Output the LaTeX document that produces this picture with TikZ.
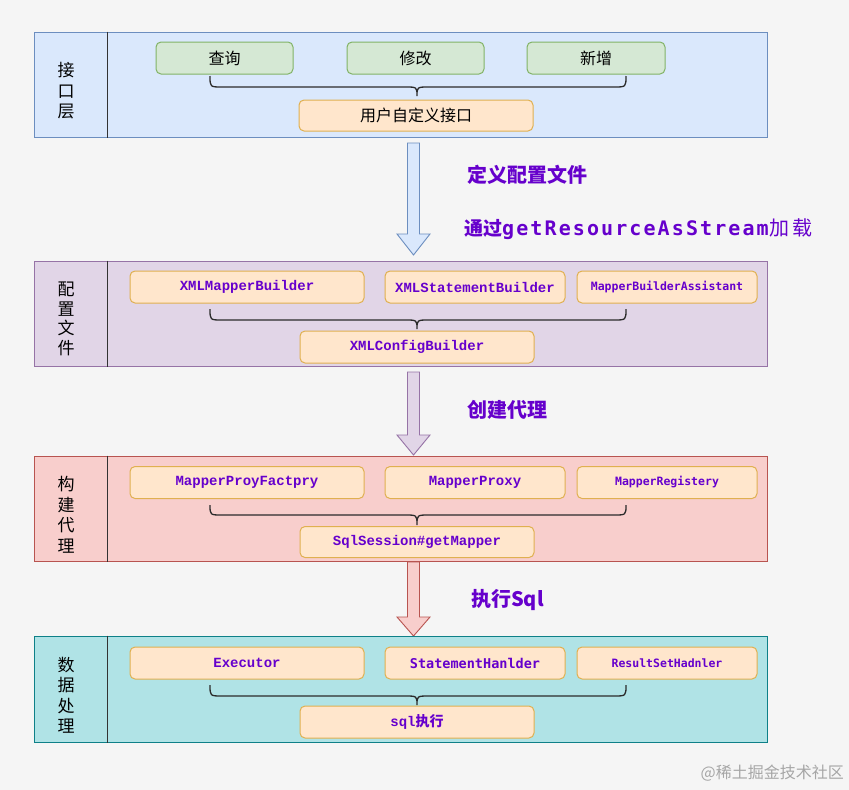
\documentclass[tikz,border=0pt]{standalone}
\usepackage{fontspec}
\newfontfamily\cjk{Noto Sans CJK SC}
\newfontfamily\mserif{Liberation Mono}
\newfontfamily\msans{DejaVu Sans Mono}
\newfontfamily\mspaced{DejaVu Sans Mono}[LetterSpace=10.5]
\definecolor{pur}{HTML}{6600CC}
\definecolor{bgc}{HTML}{F5F5F5}
\definecolor{bluef}{HTML}{DAE8FC}\definecolor{blued}{HTML}{6C8EBF}
\definecolor{purf}{HTML}{E1D5E7}\definecolor{purd}{HTML}{9673A6}
\definecolor{redf}{HTML}{F8CECC}\definecolor{redd}{HTML}{B85450}
\definecolor{tealf}{HTML}{B0E3E6}\definecolor{teald}{HTML}{0E8088}
\definecolor{grnf}{HTML}{D5E8D4}\definecolor{grnd}{HTML}{82B366}
\definecolor{orf}{HTML}{FFE6CC}\definecolor{ord}{HTML}{E0B050}
\definecolor{brc}{HTML}{2B2B2B}
\newcommand{\bracepath}[3]{%
  \draw[bracestyle] (210,#1) .. controls (210,#2) and (210,#2) .. (222,#2) -- (405,#2)
    .. controls (417,#2) and (417,#2) .. (417,#3)
    .. controls (417,#2) and (417,#2) .. (429,#2) -- (614,#2)
    .. controls (626,#2) and (626,#2) .. (626,#1);}
\newcommand{\blockarrow}[5]{%
  \draw[fill=#4, draw=#5, line width=0.9pt, line join=miter]
    (407.5,#1) -- (419.5,#1) -- (419.5,#2) -- (430,#2) -- (413.5,#3) -- (397,#2) -- (407.5,#2) -- cycle;}
\begin{document}
\begin{tikzpicture}[x=1pt,y=-1pt,
  layer/.style={draw, line width=1pt, minimum width=733pt, inner sep=0pt},
  gbox/.style={draw=grnd, fill=grnf, line width=1pt, rounded corners=5pt, minimum width=137pt, minimum height=32pt, inner sep=0pt, font=\cjk\fontsize{16}{18}\selectfont},
  obox/.style={draw=ord, fill=orf, line width=1pt, rounded corners=5pt, minimum height=32pt, inner sep=0pt, text=pur},
  wide/.style={minimum width=234pt},
  narrow/.style={minimum width=180pt},
  serifmono/.style={font=\mserif\bfseries\fontsize{14}{16}\selectfont},
  sansmono/.style={font=\msans\bfseries\fontsize{11.5}{14}\selectfont},
  sansmonob/.style={font=\msans\bfseries\fontsize{13.5}{16}\selectfont},
  sidelabel/.style={align=center, font=\cjk\fontsize{17}{20.5}\selectfont, inner sep=0pt},
  heading/.style={text=pur, anchor=west, inner sep=0pt, font=\cjk\bfseries\fontsize{20}{22}\selectfont},
  bracestyle/.style={draw=brc, line width=1.3pt}
]
\fill[bgc] (0,0) rectangle (849,790);
\useasboundingbox (0,0) rectangle (849,790);

% ---------- layer 1 ----------
\node[layer, fill=bluef, draw=blued, minimum height=105pt] (L1) at (400.5,84.5) {};
\draw[line width=1pt, black!80] ([xshift=74pt]L1.north west) -- ([xshift=74pt]L1.south west);
\node[sidelabel] (s1) at (66,91) {接\\口\\层};
\node[gbox] (a1) at (224.5,58) {查询};
\node[gbox] (a2) at (415.5,58) {修改};
\node[gbox, minimum width=138pt] (a3) at (596,58) {新增};
\node[obox, wide, minimum height=31pt, font=\cjk\fontsize{16}{18}\selectfont, text=black] (a4) at (416,115.5) {用户自定义接口};
\bracepath{76}{87}{96}

% arrow 1 + headings
\blockarrow{143}{234}{255}{bluef}{blued}
\node[heading] (h1) at (467,175) {定义配置文件};
\node[heading, font=\cjk\bfseries\fontsize{19}{22}\selectfont] (h2) at (464,229) {通过{\mspaced\fontsize{20}{22}\selectfont getResourceAsStream}\hspace{1pt}{\mdseries\fontsize{20}{22}\selectfont 加\hspace{3pt}载}};

% ---------- layer 2 ----------
\node[layer, fill=purf, draw=purd, minimum height=105pt] (L2) at (400.5,313.5) {};
\draw[line width=1pt, black!80] ([xshift=74pt]L2.north west) -- ([xshift=74pt]L2.south west);
\node[sidelabel, font=\cjk\fontsize{17}{19.5}\selectfont] (s2) at (66,319) {配\\置\\文\\件};
\node[obox, wide, serifmono] (b1) at (247,287) {XMLMapperBuilder};
\node[obox, narrow, serifmono] (b2) at (475,287) {XMLStatementBuilder};
\node[obox, narrow, sansmono] (b3) at (667,287) {MapperBuilderAssistant};
\node[obox, wide, serifmono] (b4) at (417,347) {XMLConfigBuilder};
\bracepath{309}{320}{329}

% arrow 2 + heading
\blockarrow{372}{435}{455}{purf}{purd}
\node[heading] (h3) at (467,410) {创建代理};

% ---------- layer 3 ----------
\node[layer, fill=redf, draw=redd, minimum height=105pt] (L3) at (400.5,508.5) {};
\draw[line width=1pt, black!80] ([xshift=74pt]L3.north west) -- ([xshift=74pt]L3.south west);
\node[sidelabel] (s3) at (66,515) {构\\建\\代\\理};
\node[obox, wide, serifmono] (c1) at (247,482.5) {MapperProyFactpry};
\node[obox, narrow, serifmono] (c2) at (475,482.5) {MapperProxy};
\node[obox, narrow, sansmono] (c3) at (667,482.5) {MapperRegistery};
\node[obox, wide, serifmono, minimum height=31pt] (c4) at (417,542) {SqlSession\#getMapper};
\bracepath{505}{515}{525}

% arrow 3 + heading
\blockarrow{562}{617}{636}{redf}{redd}
\node[heading] (h4) at (471,600) {执行Sql};

% ---------- layer 4 ----------
\node[layer, fill=tealf, draw=teald, minimum height=106pt] (L4) at (400.5,689) {};
\draw[line width=1pt, black!80] ([xshift=74pt]L4.north west) -- ([xshift=74pt]L4.south west);
\node[sidelabel] (s4) at (66,695) {数\\据\\处\\理};
\node[obox, wide, serifmono] (d1) at (247,663) {Executor};
\node[obox, narrow, sansmonob] (d2) at (475,663) {StatementHanlder};
\node[obox, narrow, sansmono] (d3) at (667,663) {ResultSetHadnler};
\node[obox, wide, serifmono] (d4) at (417,722) {sql{\cjk\bfseries 执行}};
\bracepath{685}{696}{705}

% watermark
\node[anchor=east, inner sep=0pt, text=black!35, font=\cjk\fontsize{16}{18}\selectfont] (wm) at (844,773) {@稀土掘金技术社区};
\end{tikzpicture}
\end{document}
